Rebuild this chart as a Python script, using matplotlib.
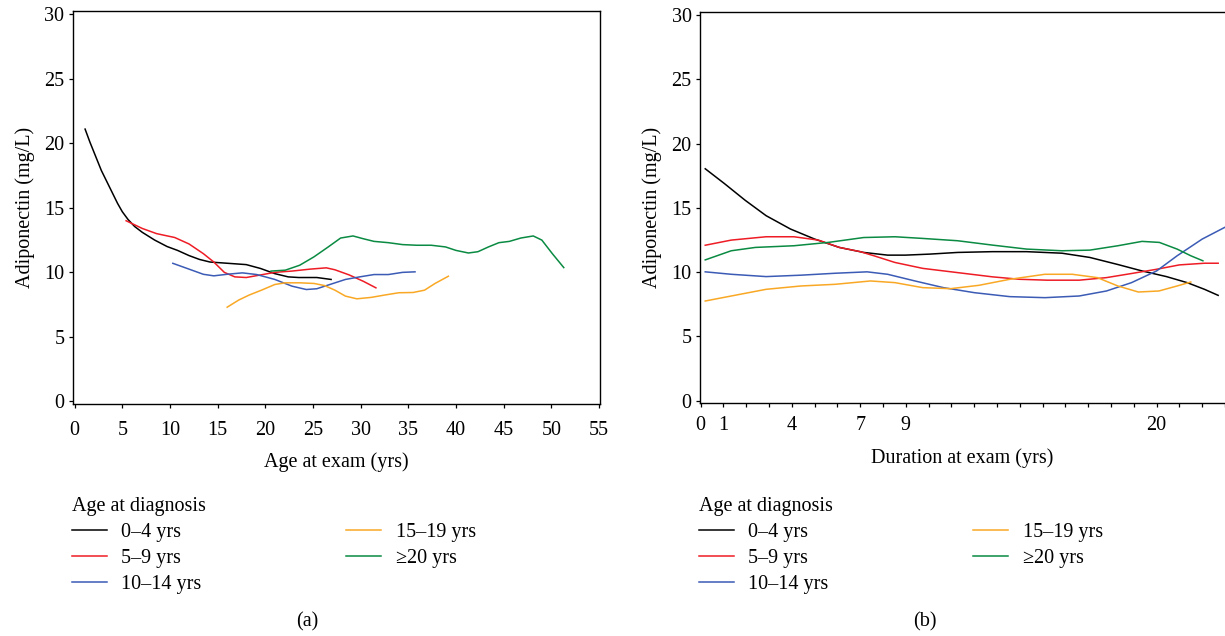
import matplotlib
matplotlib.use('Agg')
import matplotlib.pyplot as plt
from matplotlib.lines import Line2D

plt.rcParams['font.family'] = ['Liberation Serif', 'DejaVu Serif']
plt.rcParams['font.size'] = 14.5

groups = ['0\u20134 yrs', '5\u20139 yrs', '10\u201314 yrs', '15\u201319 yrs', '\u226520 yrs']
colors = ['#000000', '#ee1c25', '#3b5bb5', '#f9a825', '#0a8a42']

# (a) adiponectin vs age at exam
age_04 = [1.1, 1.6, 2.2, 2.8, 3.4, 4.0, 4.5, 5.0, 5.6, 6.3, 7.1, 8.4, 9.7, 10.8, 12.0, 13.1, 14.2, 16.1, 18.0, 19.5,
          21.0, 22.4, 23.5, 24.7, 25.4, 26.9]
adi_age_04 = [21.1, 20.1, 19.0, 17.9, 17.0, 16.1, 15.35, 14.7, 14.1, 13.55, 13.1, 12.5, 12.0, 11.7, 11.3, 11.0, 10.8, 10.7,
              10.6, 10.3, 9.9, 9.65, 9.6, 9.6, 9.6, 9.45]
age_59 = [5.4, 7.1, 8.6, 10.5, 12.0, 13.5, 14.6, 15.7, 16.8, 18.0, 19.5, 21.0, 22.8, 24.7, 26.4, 27.3, 28.8, 30.3, 31.6]
adi_age_59 = [14.0, 13.4, 13.0, 12.7, 12.2, 11.45, 10.8, 10.0, 9.65, 9.6, 9.8, 10.0, 10.1, 10.25, 10.35, 10.2, 9.8, 9.3, 8.8]
age_1014 = [10.3, 12.0, 13.5, 14.6, 16.1, 17.6, 19.1, 21.0, 22.8, 24.3, 25.4, 26.9, 28.4, 29.9, 31.4, 32.9, 34.4, 35.7]
adi_age_1014 = [10.7, 10.25, 9.85, 9.73, 9.86, 9.96, 9.83, 9.45, 8.93, 8.67, 8.73, 9.09, 9.45, 9.65, 9.83, 9.83, 10.0, 10.04]
age_1519 = [16.0, 17.2, 18.3, 19.6, 21.0, 22.1, 23.6, 25.1, 26.2, 27.3, 28.4, 29.6, 31.1, 32.5, 34.0, 35.5, 36.7, 37.8, 39.2]
adi_age_1519 = [7.3, 7.85, 8.24, 8.62, 9.06, 9.19, 9.19, 9.14, 8.98, 8.62, 8.16, 7.95, 8.06, 8.24, 8.42, 8.44, 8.62, 9.14, 9.7]
age_20 = [20.6, 22.1, 23.6, 25.1, 26.6, 27.9, 29.2, 30.3, 31.4, 32.9, 34.4, 35.9, 37.4, 38.9, 40.0, 41.3, 42.3,
          43.4, 44.5, 45.6, 46.8, 48.1, 49.0, 50.1, 51.3]
adi_age_20 = [10.1, 10.17, 10.55, 11.2, 11.97, 12.66, 12.82, 12.6, 12.4, 12.3, 12.15, 12.1, 12.1, 11.97, 11.7, 11.5, 11.6,
              11.97, 12.3, 12.4, 12.66, 12.82, 12.5, 11.45, 10.37]

# (b) adiponectin vs duration at exam
dur_04 = [0.2, 1.04, 1.95, 2.87, 3.94, 5.0, 6.08, 7.15, 8.2, 8.98, 10.05, 11.27, 12.8, 14.3, 15.85, 17.07, 18.3, 19.36,
          20.43, 21.34, 22.1, 22.7]
adi_dur_04 = [18.05, 16.9, 15.6, 14.4, 13.36, 12.58, 11.93, 11.54, 11.33, 11.33, 11.41, 11.54, 11.6, 11.6, 11.48, 11.15,
              10.6, 10.1, 9.66, 9.19, 8.67, 8.2]
dur_59 = [0.2, 1.34, 2.87, 4.09, 5.16, 6.08, 7.0, 7.6, 8.52, 9.74, 11.27, 12.8, 14.0, 15.2, 16.6, 17.8, 18.9, 20.0, 21.0,
          22.1, 22.7]
adi_dur_59 = [12.1, 12.5, 12.76, 12.76, 12.5, 11.93, 11.6, 11.28, 10.76, 10.3, 9.97, 9.64, 9.45, 9.38, 9.38, 9.58, 9.9,
              10.23, 10.57, 10.7, 10.7]
dur_1014 = [0.2, 1.34, 2.87, 4.4, 5.9, 7.3, 8.2, 9.4, 10.65, 12.0, 13.56, 15.1, 16.6, 17.8, 18.9, 20.0, 20.9, 22.0, 23.0]
adi_dur_1014 = [10.03, 9.84, 9.66, 9.77, 9.92, 10.03, 9.84, 9.32, 8.8, 8.41, 8.1, 8.02, 8.15, 8.54, 9.19, 10.1, 11.28,
                12.58, 13.5]
dur_1519 = [0.2, 1.34, 2.87, 4.4, 5.9, 7.45, 8.52, 9.74, 10.96, 12.2, 13.56, 15.1, 16.3, 17.4, 18.3, 19.2, 20.1, 20.9, 21.5]
adi_dur_1519 = [7.76, 8.15, 8.67, 8.93, 9.06, 9.32, 9.19, 8.8, 8.72, 8.98, 9.45, 9.84, 9.84, 9.58, 8.93, 8.46, 8.54,
                8.93, 9.24]
dur_20 = [0.2, 1.34, 2.4, 4.09, 5.6, 7.15, 8.52, 9.74, 11.27, 12.8, 14.3, 15.85, 17.07, 18.3, 19.36, 20.12, 20.9, 21.5, 22.03]
adi_dur_20 = [10.96, 11.67, 11.93, 12.06, 12.32, 12.7, 12.76, 12.63, 12.45, 12.11, 11.8, 11.67, 11.72, 12.06, 12.4,
              12.32, 11.8, 11.28, 10.89]

age_x = [age_04, age_59, age_1014, age_1519, age_20]
age_y = [adi_age_04, adi_age_59, adi_age_1014, adi_age_1519, adi_age_20]
dur_x = [dur_04, dur_59, dur_1014, dur_1519, dur_20]
dur_y = [adi_dur_04, adi_dur_59, adi_dur_1014, adi_dur_1519, adi_dur_20]

age_ticks = list(range(0, 60, 5))
dur_ticks = list(range(0, 24))
dur_labels = ['0', '1', '4', '7', '9', '20']
y_ticks = [0, 5, 10, 15, 20, 25, 30]

fig = plt.figure(figsize=(12.25, 6.36), dpi=100)
ax1 = fig.add_axes([72.7 / 1225, 232 / 636, 527.3 / 1225, 393 / 636])
ax2 = fig.add_axes([700 / 1225, 232.7 / 636, 525 / 1225, 391.3 / 636])

for ax, xs, ys in [(ax1, age_x, age_y), (ax2, dur_x, dur_y)]:
    for x, y, c in zip(xs, ys, colors):
        ax.plot(x, y, color=c, lw=1.1)
    ax.set_ylim(-0.2, 30.25)
    ax.set_yticks(y_ticks)
    ax.tick_params(direction='out', length=3, width=0.9, labelsize=14.5, pad=3)
    for s in ax.spines.values():
        s.set_linewidth(1.0)
    ax.set_ylabel('Adiponectin (mg/L)', fontsize=14.5, labelpad=7)

ax1.set_xlim(-0.2, 55.1)
ax1.set_xticks(age_ticks)
ax1.tick_params(axis='x', pad=9)
ax1.set_xlabel('Age at exam (yrs)', fontsize=14.5, labelpad=9)

ax2.set_xlim(-0.03, 22.95)
ax2.set_xticks(dur_ticks)
ax2.set_xticklabels([str(t) if str(t) in dur_labels else '' for t in dur_ticks])
ax2.tick_params(axis='x', pad=6)
ax2.spines['right'].set_visible(False)
ax2.set_xlabel('Duration at exam (yrs)', fontsize=14.5, labelpad=10)

handles = [Line2D([], [], color=c, lw=1.1) for c in colors]
for x0 in [72 / 1225, 699 / 1225]:
    leg = fig.legend(handles, groups, loc='upper left', bbox_to_anchor=(x0, 0.219), ncol=2, frameon=False,
                     title='Age at diagnosis', title_fontsize=14.5, fontsize=14.5, handlelength=1.74,
                     handletextpad=0.7, columnspacing=7.2, labelspacing=0.34, borderpad=0, borderaxespad=0,
                     alignment='left')

fig.text(307 / 1225, 0.022, '(a)', ha='center', va='center', fontsize=14.5)
fig.text(925 / 1225, 0.022, '(b)', ha='center', va='center', fontsize=14.5)

fig.savefig('out.png', dpi=100)
